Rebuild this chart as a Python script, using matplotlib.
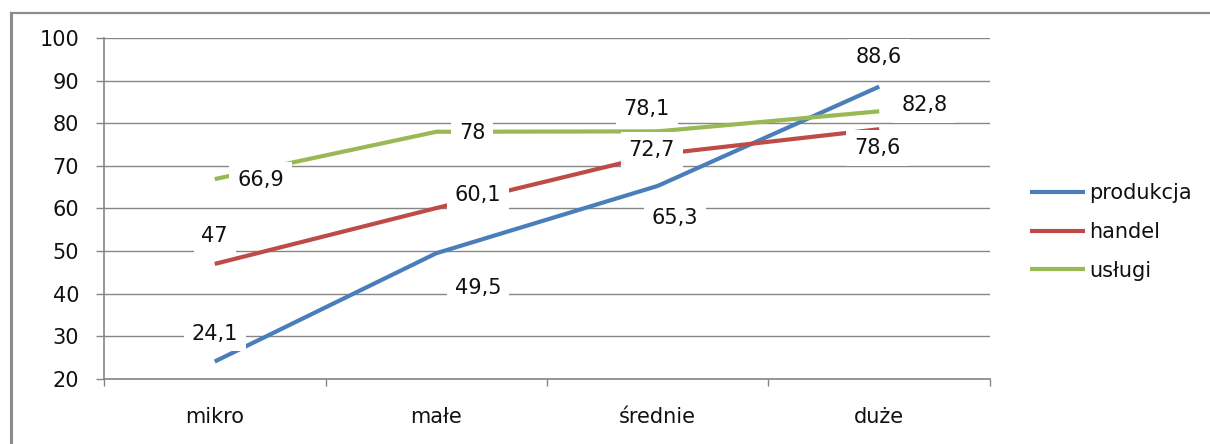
import matplotlib
matplotlib.use("Agg")
import matplotlib.pyplot as plt
from matplotlib.lines import Line2D

# Category labels and series values
categories = ["mikro", "małe", "średnie", "duże"]
produkcja = [24.1, 49.5, 65.3, 88.6]
handel = [47.0, 60.1, 72.7, 78.6]
uslugi = [66.9, 78.0, 78.1, 82.8]
series_names = ["produkcja", "handel", "usługi"]
y_ticks = [20, 30, 40, 50, 60, 70, 80, 90, 100]

colors = ["#4A7EBB", "#BE4B48", "#98B954"]
grid_color = "#868686"

# label offsets (pixels) for the data labels of each series
label_offsets = [
    [(0, 28), (42, -35), (17, -32), (0, 30)],
    [(0, 28), (42, 13), (-6, 4), (-2, -19)],
    [(46, -1), (36, -1), (-11, 22), (45, 6)],
]

plt.rcParams["font.family"] = ["DejaVu Sans"]
FS = 15

fig = plt.figure(figsize=(12.10, 4.44), dpi=100)
fig.patch.set_facecolor("white")

# outer chart frame (left and top edges)
fig.add_artist(Line2D([10.5 / 1210, 10.5 / 1210], [0, 1 - 13.5 / 444],
                      transform=fig.transFigure, color="#8c8c8c", lw=2.2))
fig.add_artist(Line2D([10.5 / 1210, 1], [1 - 13.5 / 444, 1 - 13.5 / 444],
                      transform=fig.transFigure, color="#8c8c8c", lw=1.6))

ax = fig.add_axes([104 / 1210, 65 / 444, 886 / 1210, 341 / 444])
x = list(range(len(categories)))

all_series = [produkcja, handel, uslugi]
for vals, name, col in zip(all_series, series_names, colors):
    ax.plot(x, vals, color=col, lw=3, label=name, zorder=3,
            solid_capstyle="butt")

for vals, offs in zip(all_series, label_offsets):
    for xi, v, (dx, dy) in zip(x, vals, offs):
        txt = f"{v:g}".replace(".", ",")
        ax.annotate(txt, (xi, v), xytext=(dx, dy), textcoords="offset pixels",
                    ha="center", va="center", fontsize=FS, color="#111111",
                    zorder=5,
                    bbox=dict(boxstyle="square,pad=0.38", fc="white",
                              ec="none"))

ax.set_xlim(-0.5, 3.5)
ax.set_ylim(20, 100)
ax.set_yticks(y_ticks)
ax.set_yticklabels([str(t) for t in y_ticks], fontsize=FS, color="#111111")
ax.yaxis.grid(True, color=grid_color, lw=1)
ax.set_axisbelow(True)

ax.set_xticks([-0.5, 0.5, 1.5, 2.5, 3.5])
ax.set_xticklabels([])
ax.set_xticks(x, minor=True)
ax.set_xticklabels(categories, minor=True, fontsize=FS, color="#111111")
ax.tick_params(axis="x", which="major", length=5, width=1, color=grid_color)
ax.tick_params(axis="x", which="minor", length=0, pad=20)
ax.tick_params(axis="y", length=6, width=1, color=grid_color, pad=12)

for s in ["top", "right"]:
    ax.spines[s].set_visible(False)
for s in ["left", "bottom"]:
    ax.spines[s].set_color(grid_color)
    ax.spines[s].set_linewidth(1.2)

fig.legend(loc="center left", bbox_to_anchor=(1030 / 1210, 1 - 232 / 444),
           frameon=False, fontsize=FS, handlelength=2.64, handletextpad=0.2,
           labelspacing=0.9, borderpad=0, borderaxespad=0,
           labelcolor="#111111")

fig.savefig("out.png", dpi=100, facecolor="white")
